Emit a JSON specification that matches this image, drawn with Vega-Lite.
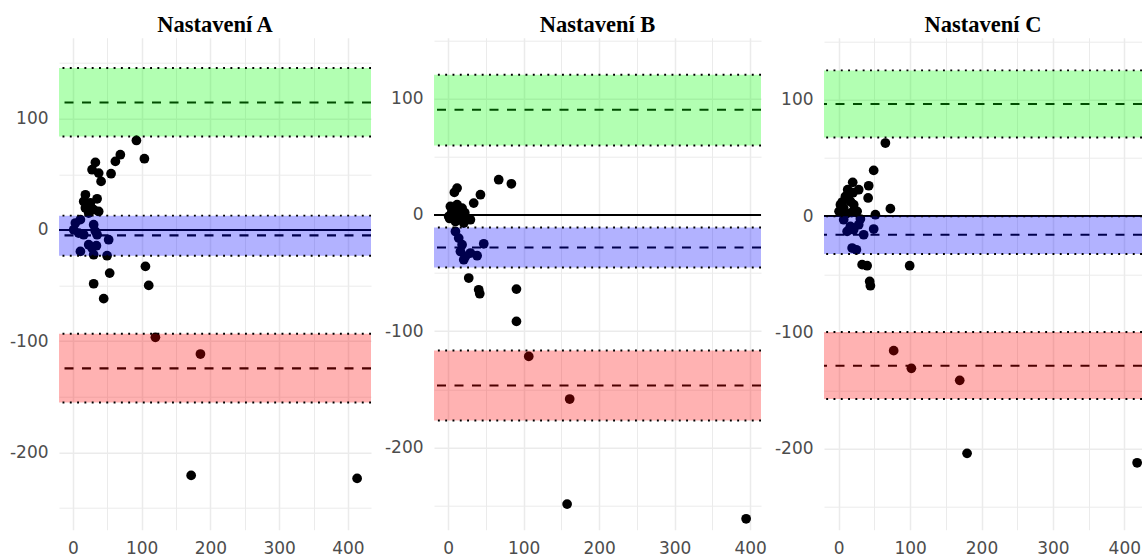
{
  "$schema": "https://vega.github.io/schema/vega-lite/v6.json",
  "padding": {"left": 9, "top": 13.7, "right": 0, "bottom": 0},
  "bounds": "flush",
  "spacing": 63,
  "datasets": {
    "zero": [{"y": 0}],
    "bands": [
      {"panel": "A", "band": "upper", "center": 114.6, "lo": 84.0, "hi": 145.5},
      {"panel": "A", "band": "bias", "center": -4.9, "lo": -23.2, "hi": 12.8},
      {"panel": "A", "band": "lower", "center": -124.5, "lo": -155.1, "hi": -93.3},
      {"panel": "B", "band": "upper", "center": 90.5, "lo": 59.8, "hi": 120.6},
      {"panel": "B", "band": "bias", "center": -28.0, "lo": -45.2, "hi": -10.8},
      {"panel": "B", "band": "lower", "center": -146.7, "lo": -176.8, "hi": -116.6},
      {"panel": "C", "band": "upper", "center": 96.2, "lo": 67.5, "hi": 125.1},
      {"panel": "C", "band": "bias", "center": -16.1, "lo": -32.6, "hi": -0.3},
      {"panel": "C", "band": "lower", "center": -128.6, "lo": -157.2, "hi": -99.7}
    ],
    "points": [
      {"panel": "A", "x": 92.4, "y": 80.4}, {"panel": "A", "x": 104, "y": 64}, {"panel": "A", "x": 69, "y": 67.6},
      {"panel": "A", "x": 61.8, "y": 61.6}, {"panel": "A", "x": 32.7, "y": 60.7}, {"panel": "A", "x": 27.9, "y": 54.1},
      {"panel": "A", "x": 37.5, "y": 51.1}, {"panel": "A", "x": 55.5, "y": 50.5}, {"panel": "A", "x": 41, "y": 43.6},
      {"panel": "A", "x": 18.2, "y": 31.6}, {"panel": "A", "x": 15.7, "y": 25.6}, {"panel": "A", "x": 35.2, "y": 28},
      {"panel": "A", "x": 25.5, "y": 24.2}, {"panel": "A", "x": 18.2, "y": 19.7}, {"panel": "A", "x": 30.2, "y": 18.2},
      {"panel": "A", "x": 37.5, "y": 16.6}, {"panel": "A", "x": 23, "y": 15.2},
      {"panel": "A", "x": 3.6, "y": 6.2}, {"panel": "A", "x": 10.9, "y": 9.2}, {"panel": "A", "x": 1.2, "y": 0.2},
      {"panel": "A", "x": 8.4, "y": -2.8}, {"panel": "A", "x": 15.7, "y": -4.3}, {"panel": "A", "x": 30.2, "y": 4.7},
      {"panel": "A", "x": 32.7, "y": -1.3}, {"panel": "A", "x": 35.2, "y": -4.3}, {"panel": "A", "x": 52, "y": -8.8},
      {"panel": "A", "x": 10.9, "y": -19.3}, {"panel": "A", "x": 27.9, "y": -16.3}, {"panel": "A", "x": 34.2, "y": -14.2},
      {"panel": "A", "x": 30.2, "y": -22.3}, {"panel": "A", "x": 49.7, "y": -23.2}, {"panel": "A", "x": 23, "y": -13.3},
      {"panel": "A", "x": 53.5, "y": -38.8}, {"panel": "A", "x": 30.2, "y": -48.4}, {"panel": "A", "x": 44.8, "y": -61.8},
      {"panel": "A", "x": 105.5, "y": -32.8}, {"panel": "A", "x": 110.3, "y": -49.9},
      {"panel": "A", "x": 120, "y": -96.6}, {"panel": "A", "x": 185.5, "y": -111.6}, {"panel": "A", "x": 172, "y": -220.7},
      {"panel": "A", "x": 413.4, "y": -223.4},
      {"panel": "B", "x": 67, "y": 30.3}, {"panel": "B", "x": 83.8, "y": 26.8}, {"panel": "B", "x": 11.9, "y": 23.1},
      {"panel": "B", "x": 8.3, "y": 19.4}, {"panel": "B", "x": 42.8, "y": 17.4}, {"panel": "B", "x": 33.9, "y": 10.2},
      {"panel": "B", "x": 3, "y": 7.3}, {"panel": "B", "x": 11.9, "y": 8.8}, {"panel": "B", "x": 18.5, "y": 5.9},
      {"panel": "B", "x": 7.4, "y": 1.6}, {"panel": "B", "x": 0.8, "y": -1.3}, {"panel": "B", "x": 16.3, "y": -1.3},
      {"panel": "B", "x": 25.2, "y": -2.7}, {"panel": "B", "x": 29.5, "y": -4.1}, {"panel": "B", "x": 9.7, "y": -5.6},
      {"panel": "B", "x": 20.7, "y": -7}, {"panel": "B", "x": 5, "y": 3}, {"panel": "B", "x": 14, "y": 0},
      {"panel": "B", "x": 2, "y": -3}, {"panel": "B", "x": 12, "y": 4}, {"panel": "B", "x": 22, "y": 2},
      {"panel": "B", "x": 9.7, "y": -14.2}, {"panel": "B", "x": 14, "y": -19.9}, {"panel": "B", "x": 18.5, "y": -25.6},
      {"panel": "B", "x": 47.2, "y": -24.8}, {"panel": "B", "x": 16.3, "y": -31.4}, {"panel": "B", "x": 22.9, "y": -35.7},
      {"panel": "B", "x": 20.7, "y": -38.5}, {"panel": "B", "x": 38.4, "y": -35.1}, {"panel": "B", "x": 29.5, "y": -32.8},
      {"panel": "B", "x": 27.3, "y": -54.3}, {"panel": "B", "x": 40.5, "y": -64.4}, {"panel": "B", "x": 41.9, "y": -67.8},
      {"panel": "B", "x": 90.5, "y": -63.8}, {"panel": "B", "x": 90.5, "y": -91.6},
      {"panel": "B", "x": 106.8, "y": -121.7}, {"panel": "B", "x": 161, "y": -158.4}, {"panel": "B", "x": 157.6, "y": -248.8},
      {"panel": "B", "x": 394.7, "y": -261.4},
      {"panel": "C", "x": 65.4, "y": 62.7}, {"panel": "C", "x": 49, "y": 39.2}, {"panel": "C", "x": 19.6, "y": 28.9},
      {"panel": "C", "x": 42, "y": 26}, {"panel": "C", "x": 12.6, "y": 22.6}, {"panel": "C", "x": 28, "y": 22.6},
      {"panel": "C", "x": 41.2, "y": 15.5}, {"panel": "C", "x": 9.4, "y": 16.8}, {"panel": "C", "x": 16.4, "y": 12.5},
      {"panel": "C", "x": 2.4, "y": 9.7}, {"panel": "C", "x": 7, "y": 6.9}, {"panel": "C", "x": 21, "y": 9.7},
      {"panel": "C", "x": 0.5, "y": 4}, {"panel": "C", "x": 25.8, "y": 4}, {"panel": "C", "x": 72.4, "y": 6.3},
      {"panel": "C", "x": 51.4, "y": 1.1}, {"panel": "C", "x": 5, "y": 12}, {"panel": "C", "x": 14, "y": 18},
      {"panel": "C", "x": 20, "y": 20}, {"panel": "C", "x": 10, "y": 2}, {"panel": "C", "x": 18, "y": 3},
      {"panel": "C", "x": 7, "y": -3.2}, {"panel": "C", "x": 16.4, "y": -8.9}, {"panel": "C", "x": 11.8, "y": -13.2},
      {"panel": "C", "x": 30.4, "y": -2.6}, {"panel": "C", "x": 35, "y": -16.1}, {"panel": "C", "x": 49, "y": -11.2},
      {"panel": "C", "x": 28, "y": -7.5}, {"panel": "C", "x": 21, "y": -11.8}, {"panel": "C", "x": 18.8, "y": -27.5},
      {"panel": "C", "x": 24.8, "y": -29},
      {"panel": "C", "x": 32.8, "y": -41.8}, {"panel": "C", "x": 39.8, "y": -42.7}, {"panel": "C", "x": 43.4, "y": -56.2},
      {"panel": "C", "x": 44.4, "y": -59.9}, {"panel": "C", "x": 99.4, "y": -42.7},
      {"panel": "C", "x": 77, "y": -115.7}, {"panel": "C", "x": 101.8, "y": -130.9}, {"panel": "C", "x": 169.5, "y": -141.2},
      {"panel": "C", "x": 179.8, "y": -203.9}, {"panel": "C", "x": 418, "y": -212}
    ]
  },
  "hconcat": [
    {
      "title": "Nastavení A",
      "width": 312, "height": 492,
      "layer": [
        {"data": {"name": "zero"}, "mark": {"type": "rule", "color": "black", "strokeWidth": 2},
         "encoding": {"y": {"field": "y", "type": "quantitative", "scale": {"domain": [-269.5, 172.8], "nice": false, "zero": false}}}},
        {"data": {"name": "points"}, "transform": [{"filter": "datum.panel === 'A'"}],
         "mark": {"type": "circle", "size": 95, "opacity": 1, "color": "black"},
         "encoding": {
           "x": {"field": "x", "type": "quantitative", "scale": {"domain": [-20.2, 433.6], "nice": false, "zero": false},
                 "axis": {"title": null, "values": [0, 50, 100, 150, 200, 250, 300, 350, 400], "labelExpr": "datum.value % 100 === 0 ? '' + datum.value : ''",
                          "labelFontSize": {"condition": {"test": "datum.value % 100 === 0", "value": 17}, "value": 0},
                          "gridWidth": {"condition": {"test": "datum.value % 100 === 0", "value": 1.5}, "value": 1}}},
           "y": {"field": "y", "type": "quantitative", "scale": {"domain": [-269.5, 172.8], "nice": false, "zero": false},
                 "axis": {"title": null, "values": [-250, -200, -150, -100, -50, 0, 50, 100, 150], "labelExpr": "datum.value % 100 === 0 ? '' + datum.value : ''",
                          "labelFontSize": {"condition": {"test": "datum.value % 100 === 0", "value": 17}, "value": 0},
                          "gridWidth": {"condition": {"test": "datum.value % 100 === 0", "value": 1.5}, "value": 1}}}
         }},
        {"data": {"name": "bands"}, "transform": [{"filter": "datum.panel === 'A'"}],
         "mark": {"type": "rule", "color": "black", "strokeWidth": 2.1, "strokeDash": [9, 8.5]},
         "encoding": {"y": {"field": "center", "type": "quantitative"}}},
        {"data": {"name": "bands"}, "transform": [{"filter": "datum.panel === 'A'"}],
         "mark": {"type": "rect", "opacity": 0.3},
         "encoding": {"y": {"field": "lo", "type": "quantitative"}, "y2": {"field": "hi"},
                      "color": {"field": "band", "type": "nominal", "scale": {"domain": ["upper", "bias", "lower"], "range": ["#00ff00", "#0000ff", "#ff0000"]}, "legend": null}}},
        {"data": {"name": "bands"}, "transform": [{"filter": "datum.panel === 'A'"}],
         "mark": {"type": "rule", "color": "black", "strokeWidth": 1.9, "strokeDash": [1.9, 5.4]},
         "encoding": {"y": {"field": "lo", "type": "quantitative"}}},
        {"data": {"name": "bands"}, "transform": [{"filter": "datum.panel === 'A'"}],
         "mark": {"type": "rule", "color": "black", "strokeWidth": 1.9, "strokeDash": [1.9, 5.4]},
         "encoding": {"y": {"field": "hi", "type": "quantitative"}}}
      ]
    },
    {
      "title": "Nastavení B",
      "width": 327, "height": 492,
      "layer": [
        {"data": {"name": "zero"}, "mark": {"type": "rule", "color": "black", "strokeWidth": 2},
         "encoding": {"y": {"field": "y", "type": "quantitative", "scale": {"domain": [-270.8, 152.5], "nice": false, "zero": false}}}},
        {"data": {"name": "points"}, "transform": [{"filter": "datum.panel === 'B'"}],
         "mark": {"type": "circle", "size": 95, "opacity": 1, "color": "black"},
         "encoding": {
           "x": {"field": "x", "type": "quantitative", "scale": {"domain": [-18.7, 414.4], "nice": false, "zero": false},
                 "axis": {"title": null, "values": [0, 50, 100, 150, 200, 250, 300, 350, 400], "labelExpr": "datum.value % 100 === 0 ? '' + datum.value : ''",
                          "labelFontSize": {"condition": {"test": "datum.value % 100 === 0", "value": 17}, "value": 0},
                          "gridWidth": {"condition": {"test": "datum.value % 100 === 0", "value": 1.5}, "value": 1}}},
           "y": {"field": "y", "type": "quantitative", "scale": {"domain": [-270.8, 152.5], "nice": false, "zero": false},
                 "axis": {"title": null, "values": [-250, -200, -150, -100, -50, 0, 50, 100, 150], "labelExpr": "datum.value % 100 === 0 ? '' + datum.value : ''",
                          "labelFontSize": {"condition": {"test": "datum.value % 100 === 0", "value": 17}, "value": 0},
                          "gridWidth": {"condition": {"test": "datum.value % 100 === 0", "value": 1.5}, "value": 1}}}
         }},
        {"data": {"name": "bands"}, "transform": [{"filter": "datum.panel === 'B'"}],
         "mark": {"type": "rule", "color": "black", "strokeWidth": 2.1, "strokeDash": [9, 8.5]},
         "encoding": {"y": {"field": "center", "type": "quantitative"}}},
        {"data": {"name": "bands"}, "transform": [{"filter": "datum.panel === 'B'"}],
         "mark": {"type": "rect", "opacity": 0.3},
         "encoding": {"y": {"field": "lo", "type": "quantitative"}, "y2": {"field": "hi"},
                      "color": {"field": "band", "type": "nominal", "scale": {"domain": ["upper", "bias", "lower"], "range": ["#00ff00", "#0000ff", "#ff0000"]}, "legend": null}}},
        {"data": {"name": "bands"}, "transform": [{"filter": "datum.panel === 'B'"}],
         "mark": {"type": "rule", "color": "black", "strokeWidth": 1.9, "strokeDash": [1.9, 5.4]},
         "encoding": {"y": {"field": "lo", "type": "quantitative"}}},
        {"data": {"name": "bands"}, "transform": [{"filter": "datum.panel === 'B'"}],
         "mark": {"type": "rule", "color": "black", "strokeWidth": 1.9, "strokeDash": [1.9, 5.4]},
         "encoding": {"y": {"field": "hi", "type": "quantitative"}}}
      ]
    },
    {
      "title": "Nastavení C",
      "width": 318, "height": 492,
      "layer": [
        {"data": {"name": "zero"}, "mark": {"type": "rule", "color": "black", "strokeWidth": 2},
         "encoding": {"y": {"field": "y", "type": "quantitative", "scale": {"domain": [-269.5, 153.2], "nice": false, "zero": false}}}},
        {"data": {"name": "points"}, "transform": [{"filter": "datum.panel === 'C'"}],
         "mark": {"type": "circle", "size": 95, "opacity": 1, "color": "black"},
         "encoding": {
           "x": {"field": "x", "type": "quantitative", "scale": {"domain": [-20.6, 424.8], "nice": false, "zero": false},
                 "axis": {"title": null, "values": [0, 50, 100, 150, 200, 250, 300, 350, 400], "labelExpr": "datum.value % 100 === 0 ? '' + datum.value : ''",
                          "labelFontSize": {"condition": {"test": "datum.value % 100 === 0", "value": 17}, "value": 0},
                          "gridWidth": {"condition": {"test": "datum.value % 100 === 0", "value": 1.5}, "value": 1}}},
           "y": {"field": "y", "type": "quantitative", "scale": {"domain": [-269.5, 153.2], "nice": false, "zero": false},
                 "axis": {"title": null, "values": [-250, -200, -150, -100, -50, 0, 50, 100, 150], "labelExpr": "datum.value % 100 === 0 ? '' + datum.value : ''",
                          "labelFontSize": {"condition": {"test": "datum.value % 100 === 0", "value": 17}, "value": 0},
                          "gridWidth": {"condition": {"test": "datum.value % 100 === 0", "value": 1.5}, "value": 1}}}
         }},
        {"data": {"name": "bands"}, "transform": [{"filter": "datum.panel === 'C'"}],
         "mark": {"type": "rule", "color": "black", "strokeWidth": 2.1, "strokeDash": [9, 8.5]},
         "encoding": {"y": {"field": "center", "type": "quantitative"}}},
        {"data": {"name": "bands"}, "transform": [{"filter": "datum.panel === 'C'"}],
         "mark": {"type": "rect", "opacity": 0.3},
         "encoding": {"y": {"field": "lo", "type": "quantitative"}, "y2": {"field": "hi"},
                      "color": {"field": "band", "type": "nominal", "scale": {"domain": ["upper", "bias", "lower"], "range": ["#00ff00", "#0000ff", "#ff0000"]}, "legend": null}}},
        {"data": {"name": "bands"}, "transform": [{"filter": "datum.panel === 'C'"}],
         "mark": {"type": "rule", "color": "black", "strokeWidth": 1.9, "strokeDash": [1.9, 5.4]},
         "encoding": {"y": {"field": "lo", "type": "quantitative"}}},
        {"data": {"name": "bands"}, "transform": [{"filter": "datum.panel === 'C'"}],
         "mark": {"type": "rule", "color": "black", "strokeWidth": 1.9, "strokeDash": [1.9, 5.4]},
         "encoding": {"y": {"field": "hi", "type": "quantitative"}}}
      ]
    }
  ],
  "config": {
    "view": {"stroke": null},
    "axis": {"domain": false, "ticks": false, "labelFont": "DejaVu Sans", "labelFontSize": 17, "labelColor": "#4d4d4d",
             "labelPadding": 11, "gridColor": "#ebebeb", "labelOverlap": false, "labelFlush": false},
    "title": {"font": "Liberation Serif", "fontSize": 22.5, "fontWeight": "bold", "color": "black", "baseline": "alphabetic",
              "offset": 1.3, "frame": "group", "anchor": "middle"}
  }
}
